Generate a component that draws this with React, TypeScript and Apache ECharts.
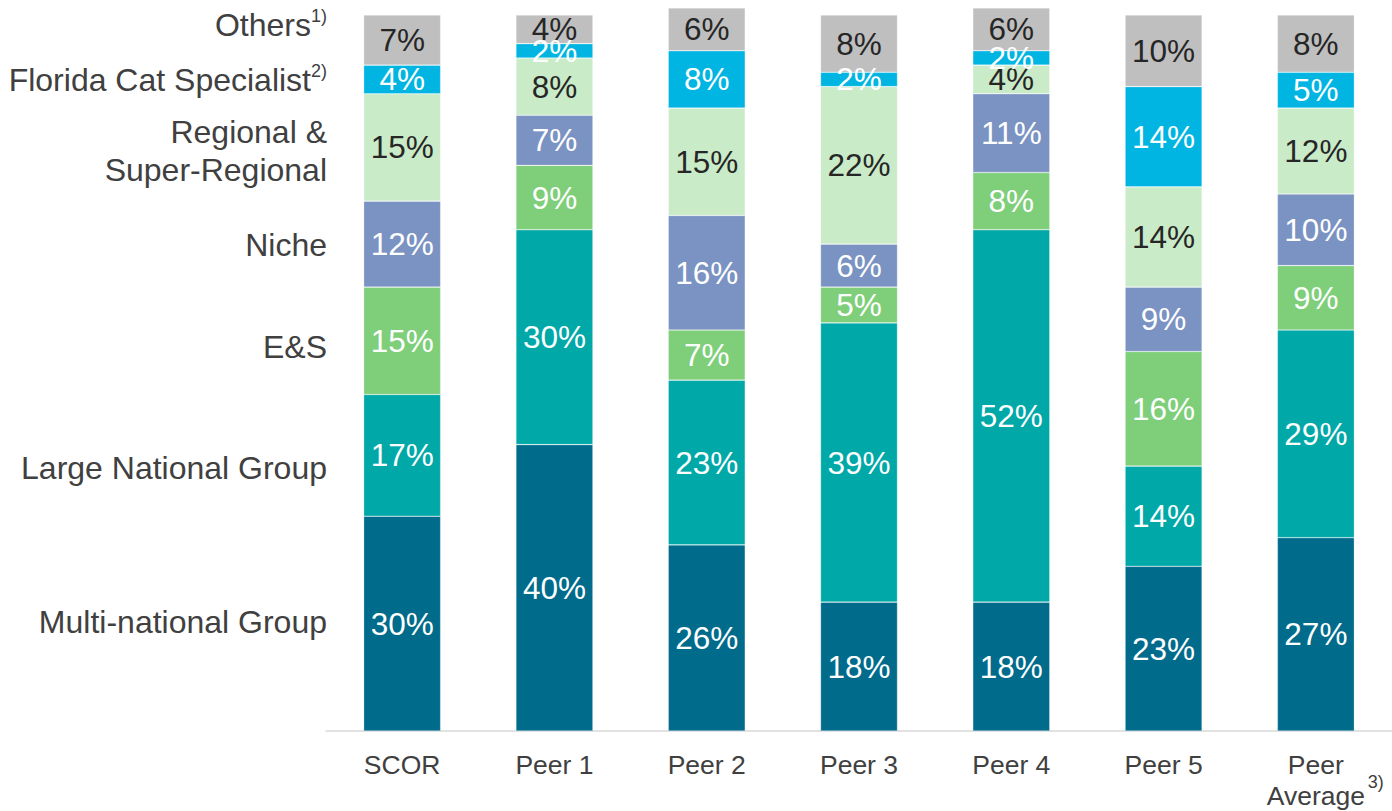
import { useEffect, useRef } from 'react';
import * as echarts from 'echarts';

// Portfolio mix by segment, in percent, bottom of the stack first
const categories = ['SCOR', 'Peer 1', 'Peer 2', 'Peer 3', 'Peer 4', 'Peer 5', 'Peer Average'];
const multiNational = [30, 40, 26, 18, 18, 23, 27];
const largeNational = [17, 30, 23, 39, 52, 14, 29];
const excessSurplus = [15, 9, 7, 5, 8, 16, 9];
const niche = [12, 7, 16, 6, 11, 9, 10];
const regional = [15, 8, 15, 22, 4, 14, 12];
const floridaCat = [4, 2, 8, 2, 2, 14, 5];
const others = [7, 4, 6, 8, 6, 10, 8];

const segmentNames = [
  'Multi-national Group',
  'Large National Group',
  'E&S',
  'Niche',
  'Regional & Super-Regional',
  'Florida Cat Specialist',
  'Others',
];
const segmentValues = [multiNational, largeNational, excessSurplus, niche, regional, floridaCat, others];
const segmentColors = ['#006B8B', '#00A8A8', '#7ECE7A', '#7A93C2', '#CAEBC8', '#00B5E2', '#BFBFBF'];
const segmentLabelColors = ['#ffffff', '#ffffff', '#ffffff', '#ffffff', '#262626', '#ffffff', '#262626'];

const FONT = "'Liberation Sans', Arial, Helvetica, sans-serif";
const TEXT = '#404040';

export default function App() {
  const ref = useRef<HTMLDivElement>(null);

  useEffect(() => {
    if (!ref.current) return;
    const chart = echarts.init(ref.current, undefined, { renderer: 'svg' });

    const series = segmentNames.map((name, i) => ({
      name,
      type: 'bar' as const,
      stack: 'mix',
      barWidth: 77,
      clip: false,
      data: segmentValues[i],
      itemStyle: {
        color: segmentColors[i],
        borderColor: 'rgba(255,255,255,0.45)',
        borderWidth: 0.6,
      },
      label: {
        show: true,
        position: 'inside' as const,
        formatter: '{c}%',
        fontFamily: FONT,
        fontSize: 31.5,
        color: segmentLabelColors[i],
      },
    }));

    chart.setOption({
      animation: false,
      textStyle: { fontFamily: FONT },
      grid: { left: 326, top: 15, width: 1071, bottom: 79, containLabel: false },
      xAxis: {
        type: 'category',
        data: categories,
        axisLine: { show: true, lineStyle: { color: '#D9D9D9', width: 1.5 } },
        axisTick: { show: false },
        axisLabel: {
          fontFamily: FONT,
          fontSize: 26.5,
          color: TEXT,
          lineHeight: 31,
          margin: 18,
          interval: 0,
          formatter: (v: string) => (v === 'Peer Average' ? 'Peer\nAverage' : v),
        },
      },
      yAxis: {
        type: 'value',
        min: 0,
        max: 100,
        show: false,
        splitLine: { show: false },
      },
      series,
    });

    // Segment names down the left side, beside the first bar
    const leftLabels: { text: string; y: number }[] = [
      { text: '{m|Others}{s|1)}', y: 25 },
      { text: '{m|Florida Cat Specialist}{s|2)}', y: 80 },
      { text: 'Regional &\nSuper-Regional', y: 151 },
      { text: 'Niche', y: 245 },
      { text: 'E&S', y: 347 },
      { text: 'Large National Group', y: 468 },
      { text: 'Multi-national Group', y: 622 },
    ];
    const richStyles = {
      m: { fontFamily: FONT, fontSize: 32, fill: TEXT, lineHeight: 36 },
      s: { fontFamily: FONT, fontSize: 18, fill: TEXT, lineHeight: 20, verticalAlign: 'top' },
    };

    const avgX = chart.convertToPixel({ xAxisIndex: 0 }, 'Peer Average') as number;

    chart.setOption({
      graphic: [
        ...leftLabels.map((l) => ({
          type: 'text',
          x: 327,
          y: l.y,
          silent: true,
          style: {
            text: l.text,
            rich: richStyles,
            fontFamily: FONT,
            fontSize: 32,
            lineHeight: 38,
            fill: TEXT,
            align: 'right',
            verticalAlign: 'middle',
          },
        })),
        {
          type: 'text',
          x: avgX + 52,
          y: 782,
          silent: true,
          style: {
            text: '3)',
            fontFamily: FONT,
            fontSize: 18,
            fill: TEXT,
            align: 'left',
            verticalAlign: 'middle',
          },
        },
      ],
    });

    return () => chart.dispose();
  }, []);

  return (
    <div
      ref={ref}
      style={{ position: 'absolute', left: 0, top: 0, width: 1392, height: 811 }}
    />
  );
}
